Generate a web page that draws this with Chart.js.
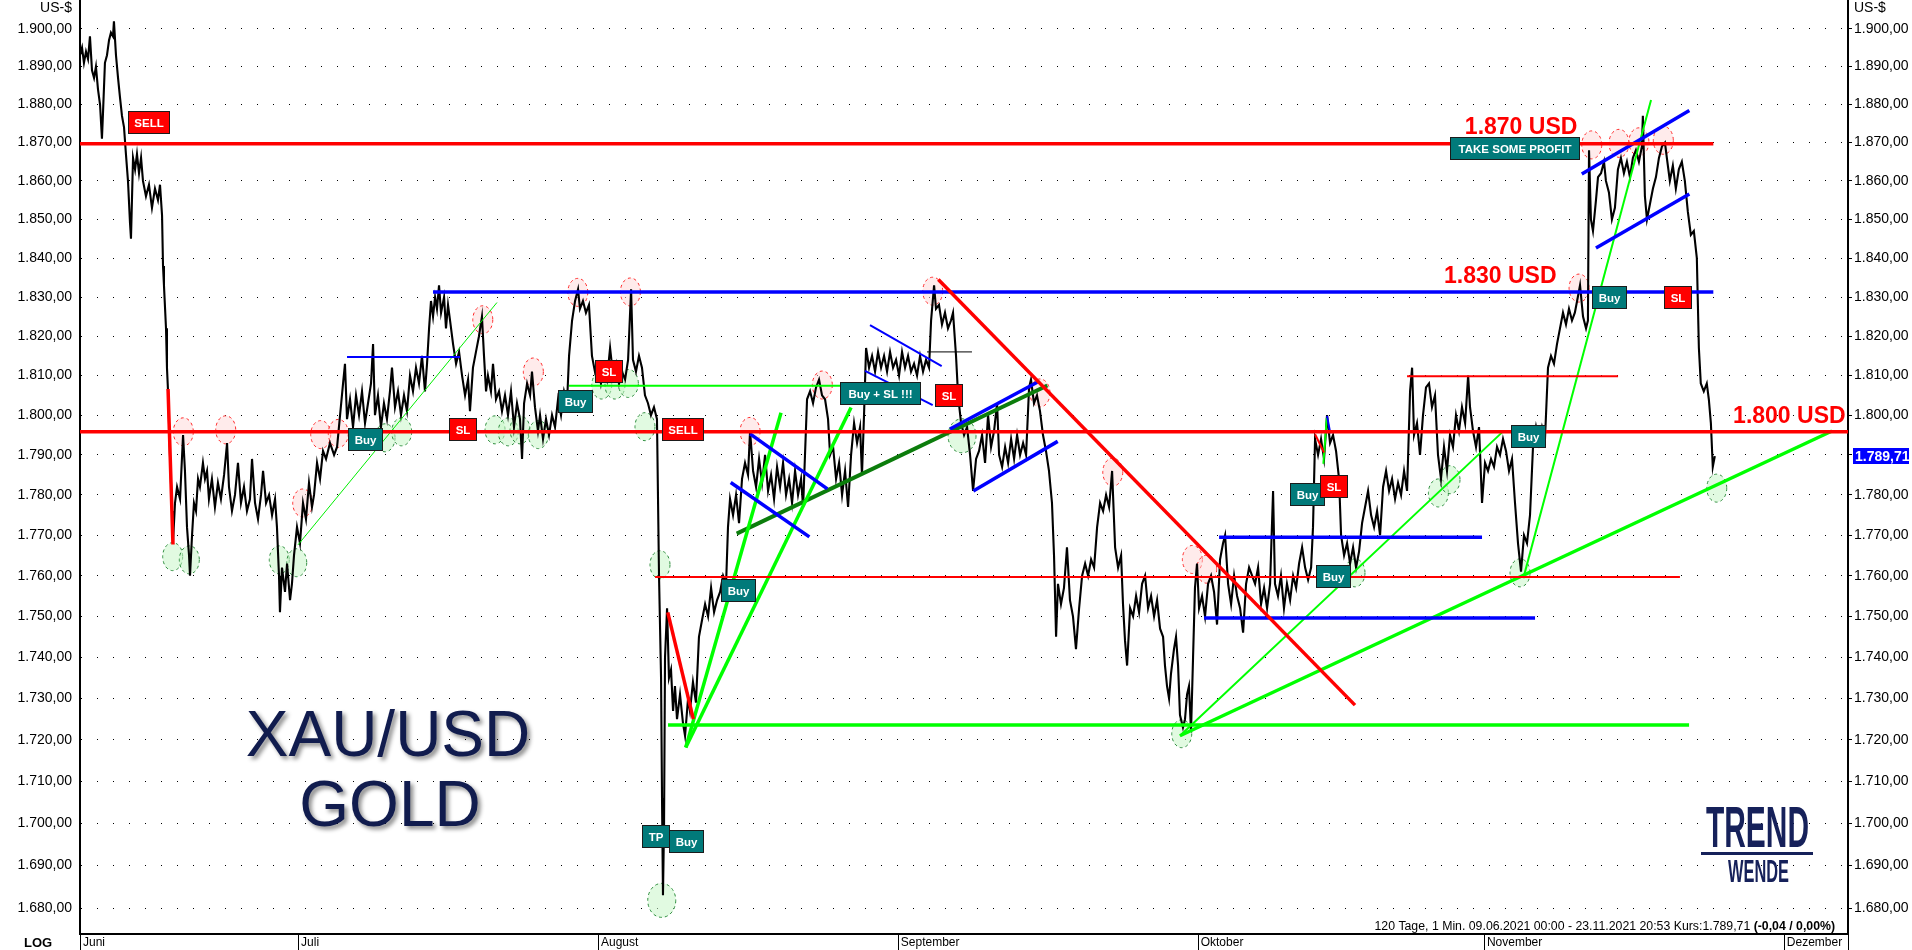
<!DOCTYPE html>
<html>
<head>
<meta charset="utf-8">
<title>XAU/USD Gold</title>
<script src="https://cdn.jsdelivr.net/npm/chart.js@4.4.1/dist/chart.umd.min.js"></script>
<style>
  html, body { margin: 0; padding: 0; background: #fff; }
  #wrap { width: 1912px; height: 950px; }
</style>
</head>
<body>
<div id="wrap"><canvas id="goldChart" width="1912" height="950"></canvas></div>
<script>
// Achsen: Handelstage seit 09.06.2021, Preis in US-$ (log)
const monthNames = ['Juni', 'Juli', 'August', 'September', 'Oktober', 'November', 'Dezember'];
const monthStarts = [0, 16, 38, 60, 82, 103, 125];
const priceTicks = [1680, 1690, 1700, 1710, 1720, 1730, 1740, 1750, 1760, 1770, 1780, 1790, 1800, 1810, 1820, 1830, 1840, 1850, 1860, 1870, 1880, 1890, 1900];
const yMin = 1673.9;
const yMax = 1907.7;
const xMax = 129.71;
const lastPrice = 1789.71;

// Kursverlauf [Handelstag, Kurs]
const gold = [
[0,1893],[0.15,1895],[0.29,1891],[0.44,1894],[0.59,1892],[0.73,1898],[0.88,1889],[1.03,1887],[1.17,1890],[1.32,1884],[1.47,1880],[1.61,1871],[1.69,1878],[1.83,1891],[1.98,1893],[2.13,1897],[2.27,1899],[2.42,1898],[2.49,1902],[2.64,1893],[2.79,1887],[2.93,1882],[3.08,1877],[3.23,1874],[3.37,1867],[3.52,1860],[3.67,1849],[3.74,1845],[3.89,1866],[4.04,1863],[4.18,1867],[4.33,1862],[4.48,1866],[4.62,1860],[4.84,1856],[5.06,1859],[5.28,1853],[5.50,1858],[5.72,1855],[5.87,1859],[6.02,1851],[6.09,1838],[6.16,1833],[6.31,1822],[6.38,1812],[6.46,1806],[6.60,1790],[6.75,1776],[6.82,1768],[6.97,1778],[7.12,1782],[7.34,1779],[7.56,1795],[7.70,1786],[7.85,1772],[8.00,1765],[8.07,1760],[8.22,1770],[8.36,1778],[8.51,1776],[8.66,1784],[8.80,1782],[9.02,1788],[9.17,1784],[9.32,1786],[9.46,1779],[9.68,1784],[9.90,1777],[10.12,1783],[10.34,1779],[10.57,1785],[10.79,1793],[10.93,1782],[11.15,1776],[11.37,1780],[11.59,1788],[11.81,1778],[12.03,1782],[12.25,1776],[12.47,1779],[12.62,1789],[12.84,1778],[13.06,1774],[13.28,1780],[13.43,1786],[13.65,1778],[13.87,1780],[14.09,1775],[14.31,1779],[14.45,1772],[14.60,1760],[14.67,1751],[14.82,1762],[15.04,1756],[15.19,1763],[15.41,1754],[15.55,1758],[15.70,1765],[15.92,1772],[16.14,1768],[16.36,1778],[16.58,1774],[16.80,1783],[17.02,1777],[17.17,1780],[17.39,1788],[17.61,1784],[17.83,1791],[18.05,1789],[18.34,1793],[18.64,1790],[18.86,1792],[19.08,1800],[19.30,1808],[19.44,1813],[19.59,1799],[19.81,1804],[20.03,1797],[20.25,1805],[20.47,1800],[20.69,1806],[20.91,1798],[21.13,1803],[21.35,1808],[21.50,1818],[21.64,1800],[21.86,1805],[22.08,1797],[22.30,1803],[22.52,1799],[22.74,1806],[22.89,1812],[23.11,1802],[23.33,1806],[23.55,1800],[23.77,1805],[23.99,1801],[24.21,1810],[24.43,1806],[24.65,1812],[24.87,1808],[25.09,1815],[25.31,1806],[25.46,1813],[25.61,1822],[25.75,1829],[25.90,1825],[26.05,1830],[26.19,1827],[26.34,1833],[26.49,1826],[26.71,1830],[26.85,1822],[27.00,1828],[27.15,1824],[27.37,1818],[27.59,1813],[27.81,1816],[28.03,1810],[28.25,1805],[28.47,1809],[28.61,1801],[28.83,1812],[29.05,1816],[29.27,1820],[29.49,1825],[29.64,1815],[29.79,1806],[29.93,1810],[30.15,1806],[30.30,1813],[30.52,1804],[30.74,1806],[30.96,1801],[31.18,1805],[31.40,1800],[31.62,1806],[31.84,1797],[32.06,1803],[32.28,1799],[32.43,1789],[32.58,1803],[32.80,1808],[33.02,1805],[33.16,1811],[33.38,1802],[33.60,1796],[33.75,1800],
[33.97,1794],[34.19,1799],[34.41,1795],[34.63,1800],[34.85,1797],[35.07,1804],[35.29,1800],[35.51,1806],[35.73,1803],[35.88,1815],[36.10,1824],[36.32,1829],[36.54,1832],[36.68,1827],[36.90,1829],[37.12,1826],[37.34,1828],[37.56,1815],[37.78,1811],[38.00,1813],[38.22,1808],[38.44,1812],[38.66,1809],[38.89,1817],[39.11,1810],[39.33,1813],[39.55,1808],[39.77,1811],[39.99,1809],[40.21,1814],[40.43,1832],[40.57,1814],[40.79,1811],[41.01,1815],[41.23,1812],[41.45,1805],[41.67,1803],[41.89,1800],[42.11,1802],[42.33,1799],[42.48,1760],[42.63,1735],[42.70,1706],[42.77,1683],[42.85,1700],[42.92,1740],[43.07,1752],[43.21,1735],[43.36,1737],[43.51,1727],[43.65,1733],[43.80,1725],[44.02,1731],[44.24,1724],[44.39,1721],[44.61,1730],[44.75,1727],[44.97,1734],[45.19,1729],[45.41,1745],[45.63,1749],[45.86,1753],[46.08,1750],[46.30,1757],[46.52,1751],[46.74,1754],[46.96,1756],[47.18,1760],[47.40,1758],[47.54,1772],[47.69,1779],[47.91,1775],[48.13,1780],[48.35,1773],[48.57,1784],[48.79,1788],[49.01,1785],[49.16,1796],[49.38,1786],[49.60,1782],[49.82,1789],[50.04,1783],[50.26,1790],[50.48,1781],[50.70,1785],[50.92,1779],[51.14,1787],[51.36,1782],[51.58,1788],[51.80,1780],[52.02,1784],[52.24,1778],[52.46,1786],[52.68,1780],[52.90,1784],[53.05,1777],[53.19,1790],[53.34,1804],[53.56,1806],[53.78,1803],[54.00,1807],[54.22,1809],[54.44,1805],[54.66,1804],[54.88,1799],[55.03,1790],[55.25,1792],[55.47,1784],[55.69,1788],[55.91,1780],[56.13,1786],[56.35,1777],[56.57,1790],[56.79,1798],[57.01,1793],[57.23,1797],[57.37,1785],[57.52,1800],[57.67,1817],[57.89,1812],[58.11,1815],[58.33,1811],[58.55,1816],[58.77,1812],[58.99,1815],[59.21,1811],[59.43,1816],[59.65,1812],[59.87,1814],[60.09,1810],[60.31,1816],[60.53,1812],[60.75,1815],[60.97,1811],[61.19,1813],[61.41,1810],[61.63,1815],[61.85,1811],[62.07,1814],[62.29,1812],[62.44,1824],[62.66,1833],[62.80,1827],[63.02,1828],[63.24,1823],[63.46,1826],[63.68,1822],[63.90,1824],[64.05,1826],[64.27,1815],[64.42,1805],[64.64,1798],[64.86,1795],[65.08,1797],[65.30,1790],[65.52,1781],[65.74,1789],[65.96,1791],[66.18,1795],[66.40,1788],[66.62,1800],[66.84,1792],[67.06,1796],[67.28,1803],[67.43,1790],[67.65,1787],[67.87,1792],[68.09,1788],[68.31,1794],[68.53,1789],[68.75,1795],[68.97,1790],[69.19,1793],[69.41,1790],[69.63,1807],[69.77,1809],[69.99,1803],[70.21,1805],[70.43,1801],[70.65,1795],[70.87,1791],[71.09,1786],[71.31,1778],[71.46,1765],[71.61,1745],[71.75,1758],[71.97,1753],[72.19,1757],[72.41,1767],[72.63,1754],[72.85,1750],[73.07,1742],[73.30,1752],[73.52,1760],[73.74,1763],[73.96,1760],[74.18,1764],[74.40,1762],[74.62,1772],[74.84,1778],[75.06,1776],[75.28,1780],[75.50,1777],[75.72,1786],[75.94,1767],[76.16,1762],[76.38,1765],[76.52,1753],[76.67,1744],[76.82,1738],[77.04,1752],[77.26,1750],[77.48,1755],[77.70,1751],[77.92,1758],[78.14,1760],[78.36,1752],[78.58,1755],[78.80,1750],[79.02,1754],[79.24,1747],[79.46,1745],[79.60,1738],[79.75,1733],[79.90,1730],[80.04,1736],[80.26,1742],[80.41,1745],[80.56,1738],[80.70,1726],[80.92,1723],[81.07,1725],[81.22,1731],[81.36,1733],[81.51,1722],[81.66,1740],[81.80,1757],[81.95,1763],[82.10,1752],[82.32,1755],[82.54,1750],[82.76,1758],[82.98,1760],[83.20,1756],[83.42,1748],[83.64,1764],[83.86,1768],[84.01,1770],[84.23,1758],[84.45,1753],[84.67,1760],[84.89,1755],[85.11,1752],[85.33,1746],[85.55,1758],[85.77,1762],[85.99,1760],[86.21,1758],[86.43,1762],[86.65,1753],[86.87,1757],[87.09,1752],[87.31,1758],[87.53,1781],[87.67,1758],[87.89,1755],[88.11,1760],[88.33,1752],[88.55,1758],[88.78,1754],[89.00,1760],[89.22,1757],[89.44,1763],[89.66,1767],[89.88,1762],[90.10,1759],[90.32,1762],[90.46,1772],[90.61,1794],[90.83,1790],[91.05,1794],[91.27,1789],[91.49,1800],[91.71,1793],[91.93,1795],[92.15,1791],[92.37,1784],[92.52,1770],[92.74,1765],[92.96,1768],[93.18,1763],[93.40,1767],[93.62,1762],[93.84,1766],[94.06,1773],[94.28,1777],[94.50,1781],[94.72,1775],[94.94,1772],[95.16,1776],[95.38,1770],[95.60,1782],[95.82,1786],[96.04,1781],[96.26,1784],[96.48,1779],[96.70,1783],
[96.92,1780],[97.14,1786],[97.36,1781],[97.58,1806],[97.73,1812],[97.87,1795],[98.09,1798],[98.31,1790],[98.53,1800],[98.75,1807],[98.97,1808],[99.19,1802],[99.41,1805],[99.63,1790],[99.85,1784],[100.07,1792],[100.29,1786],[100.51,1795],[100.73,1792],[100.95,1800],[101.17,1796],[101.39,1802],[101.62,1798],[101.84,1810],[101.98,1802],[102.20,1796],[102.42,1792],[102.64,1797],[102.86,1778],[103.08,1788],[103.30,1786],[103.52,1789],[103.74,1787],[103.96,1792],[104.18,1790],[104.40,1794],[104.62,1791],[104.84,1786],[105.06,1789],[105.28,1778],[105.50,1768],[105.72,1761],[105.94,1770],[106.16,1768],[106.38,1775],[106.60,1792],[106.82,1797],[107.04,1793],[107.26,1797],[107.48,1794],[107.70,1812],[107.92,1815],[108.14,1813],[108.36,1818],[108.58,1822],[108.80,1826],[109.02,1823],[109.24,1827],[109.46,1824],[109.67,1826],[109.89,1830],[110.05,1833],[110.27,1825],[110.49,1822],[110.63,1824],[110.71,1868],[110.85,1850],[111.00,1847],[111.22,1855],[111.37,1861],[111.59,1862],[111.81,1865],[111.95,1860],[112.17,1857],[112.39,1850],[112.61,1853],[112.83,1863],[113.05,1866],[113.27,1862],[113.49,1865],[113.71,1861],[113.93,1866],[114.15,1868],[114.37,1865],[114.59,1869],[114.66,1877],[114.81,1856],[114.96,1850],[115.18,1854],[115.40,1858],[115.62,1861],[115.84,1866],[116.06,1869],[116.28,1870],[116.42,1866],[116.64,1860],[116.86,1864],[117.08,1858],[117.30,1863],[117.52,1865],[117.74,1860],[117.96,1852],[118.18,1846],[118.40,1847],[118.62,1840],[118.77,1817],[118.91,1808],[119.13,1806],[119.35,1808],[119.50,1804],[119.65,1798],[119.79,1787],[119.94,1789.71]
];

// Zeichenlinien, je Strecke [[Tag, Kurs], [Tag, Kurs]]
const redThick = [
  [[0, 1869.7], [119.83, 1869.7]],
  [[0, 1795.8], [129.71, 1795.8]],
  [[6.46, 1806.6], [6.82, 1767.7]],
  [[43.12, 1751], [45.0, 1725]],
  [[62.97, 1834.5], [93.54, 1728.4]]
];
const redThin = [
  [[97.36, 1809.8], [112.84, 1809.8]],
  [[42.19, 1759.7], [117.38, 1759.7]],
  [[90.61, 1795.2], [91.27, 1790.6]]
];
const blueThick = [
  [[25.90, 1831.3], [119.83, 1831.3]],
  [[83.57, 1769.5], [102.86, 1769.5]],
  [[82.47, 1749.6], [106.75, 1749.6]],
  [[49.16, 1795.3], [54.83, 1781.5]],
  [[47.74, 1783.1], [53.51, 1769.6]],
  [[63.83, 1796.5], [70.23, 1808.3]],
  [[65.54, 1781.0], [71.73, 1793.4]],
  [[110.18, 1861.8], [118.07, 1878.4]],
  [[111.22, 1842.6], [118.07, 1856.6]]
];
const blueThin = [
  [[19.59, 1814.7], [27.88, 1814.7]],
  [[57.96, 1822.8], [63.22, 1812.4]],
  [[57.59, 1811.2], [62.56, 1802.5]],
  [[91.49, 1799.8], [91.73, 1795.4]]
];
const greenThick = [
  [[43.14, 1723.6], [118.05, 1723.6]],
  [[44.44, 1718.2], [51.43, 1800.6]],
  [[44.44, 1718.2], [56.57, 1801.9]],
  [[80.70, 1721.0], [128.54, 1796.0]]
];
const greenThin = [
  [[35.88, 1807.4], [55.98, 1807.4]],
  [[57.45, 1803.1], [61.56, 1803.1]],
  [[80.70, 1721.0], [104.31, 1795.6]],
  [[105.89, 1759.4], [115.26, 1881.2]],
  [[91.22, 1787.8], [91.47, 1799.3]]
];
const greenHair = [
  [[15.99, 1767.6], [30.59, 1828.6]]
];
const darkGreen = [
  [[48.18, 1770.4], [70.97, 1807.5]]
];
const blackThin = [
  [[62.14, 1816], [65.44, 1816]]
];

// Markierungen [Tag, Kurs]
const topMarks = [
  [7.58, 1795.8], [10.69, 1796.3], [17.66, 1795.1], [18.95, 1795.4], [16.34, 1778.0], [29.55, 1824.2],
  [33.26, 1810.9], [36.52, 1831.2], [40.38, 1831.3], [49.16, 1795.9], [54.46, 1807.6], [62.56, 1831.5],
  [70.43, 1805.6], [75.77, 1785.7], [81.61, 1764.0], [82.66, 1761.6], [109.98, 1832.3], [110.91, 1869.4],
  [112.91, 1869.8], [114.37, 1870.2], [116.16, 1870.6]
];
const bottomMarks = [
  [6.80, 1764.7], [8.02, 1763.9], [14.62, 1763.9], [15.90, 1763.2], [22.38, 1794.3], [23.60, 1795.8],
  [30.45, 1796.3], [31.42, 1795.8], [32.28, 1796.3], [33.63, 1795.1], [38.28, 1807.6], [39.25, 1807.6],
  [40.23, 1808.0], [41.45, 1797.1], [42.55, 1762.7], [93.54, 1760.7], [99.66, 1780.5], [100.51, 1783.8],
  [120.08, 1781.7], [80.83, 1721.5], [105.65, 1760.7]
];
const bigBottomMarks = [
  [42.68, 1681.8], [64.71, 1794.8]
];

// Signale [Tag, Kurs, Text]
const buySignals = [
  [20.91, 1794.0, 'Buy'], [36.32, 1803.6, 'Buy'], [48.28, 1756.5, 'Buy'], [42.21, 1697.1, 'TP'],
  [44.45, 1695.8, 'Buy'], [58.69, 1805.5, 'Buy + SL !!!'], [90.0, 1780.2, 'Buy'], [91.9, 1760.0, 'Buy'],
  [106.22, 1794.7, 'Buy'], [105.24, 1868.6, 'TAKE SOME PROFIT'], [112.17, 1830.0, 'Buy']
];
const sellSignals = [
  [4.99, 1875.4, 'SELL'], [28.06, 1796.5, 'SL'], [38.79, 1811.1, 'SL'], [44.17, 1796.4, 'SELL'],
  [63.71, 1805.1, 'SL'], [91.98, 1782.3, 'SL'], [117.17, 1829.9, 'SL']
];

// Kursmarken [Tag, Kurs, Text]
const levelNotes = [
  [101.6, 1873.9, '1.870 USD'],
  [100.07, 1835.2, '1.830 USD'],
  [121.28, 1799.6, '1.800 USD']
];

const infoText = '120 Tage, 1 Min. 09.06.2021 00:00 - 23.11.2021 20:53 Kurs:1.789,71 ';
const infoChange = '(-0,04 / 0,00%)';

// Stile
const lineStyles = {
  redThick: { color: '#ff0000', width: 3.5 },
  redThin: { color: '#ff0000', width: 2 },
  blueThick: { color: '#0000ff', width: 3.5 },
  blueThin: { color: '#0000ff', width: 2 },
  greenThick: { color: '#00ff00', width: 3.5 },
  greenThin: { color: '#00ff00', width: 2 },
  greenHair: { color: '#00ee00', width: 1 },
  darkGreen: { color: '#0c7d0c', width: 4 },
  blackThin: { color: '#000000', width: 1 }
};
const lineGroups = { redThick, redThin, blueThick, blueThin, greenThick, greenThin, greenHair, darkGreen, blackThin };

const axisFont = '"Liberation Sans Narrow", "Arial Narrow", "Liberation Sans", Arial, sans-serif';

function formatPrice(v) {
  const parts = v.toFixed(2).split('.');
  const intPart = parts[0].replace(/\B(?=(\d{3})+(?!\d))/g, '.');
  return intPart + ',' + parts[1];
}

const datasets = [];
Object.keys(lineGroups).forEach(name => {
  const style = lineStyles[name];
  lineGroups[name].forEach(seg => {
    datasets.push({
      data: seg.map(p => ({ x: p[0], y: p[1] })),
      borderColor: style.color,
      borderWidth: style.width,
      borderCapStyle: 'butt',
      pointRadius: 0,
      order: 1
    });
  });
});
datasets.push({
  data: gold.map(p => ({ x: p[0], y: p[1] })),
  borderColor: '#000000',
  borderWidth: 2.1,
  pointRadius: 0,
  tension: 0,
  order: 10
});

// Hilfsfunktionen zum Zeichnen
function drawTag(ctx, x, y, text, fill) {
  ctx.font = 'bold 11.5px "Liberation Sans", Arial, sans-serif';
  const pad = text.length > 10 ? 8 : 6;
  const w = Math.round(ctx.measureText(text).width + pad * 2);
  const h = 22;
  const left = Math.round(x - w / 2) + 0.5;
  const top = Math.round(y - h / 2) + 0.5;
  ctx.fillStyle = fill;
  ctx.fillRect(left, top, w, h);
  ctx.strokeStyle = '#1b1b1b';
  ctx.lineWidth = 1;
  ctx.strokeRect(left, top, w, h);
  ctx.fillStyle = '#ffffff';
  ctx.textAlign = 'center';
  ctx.textBaseline = 'middle';
  ctx.fillText(text, left + w / 2, top + h / 2 + 1);
}

function drawMark(ctx, x, y, rx, ry, fill, stroke) {
  ctx.save();
  ctx.beginPath();
  ctx.ellipse(x, y, rx, ry, 0, 0, Math.PI * 2);
  ctx.fillStyle = fill;
  ctx.fill();
  ctx.setLineDash([3, 3]);
  ctx.strokeStyle = stroke;
  ctx.lineWidth = 1;
  ctx.stroke();
  ctx.restore();
}

function fitText(ctx, text, x, baseline, width, font, color) {
  ctx.save();
  ctx.font = font;
  const w = ctx.measureText(text).width;
  ctx.translate(x, baseline);
  ctx.scale(width / w, 1);
  ctx.fillStyle = color;
  ctx.textAlign = 'left';
  ctx.textBaseline = 'alphabetic';
  ctx.fillText(text, 0, 0);
  ctx.restore();
}

const overlayPlugin = {
  id: 'overlay',
  beforeDatasetsDraw(chart) {
    const { ctx, chartArea, scales } = chart;
    const xs = scales.x, ys = scales.y;
    ctx.save();
    ctx.beginPath();
    ctx.rect(chartArea.left, chartArea.top, chartArea.width, chartArea.height);
    ctx.clip();
    topMarks.forEach(m => drawMark(ctx, xs.getPixelForValue(m[0]), ys.getPixelForValue(m[1]), 10, 14, 'rgba(255,215,215,0.5)', '#ff2828'));
    bottomMarks.forEach(m => drawMark(ctx, xs.getPixelForValue(m[0]), ys.getPixelForValue(m[1]), 10, 14, 'rgba(200,245,200,0.55)', '#2c8c3c'));
    bigBottomMarks.forEach(m => drawMark(ctx, xs.getPixelForValue(m[0]), ys.getPixelForValue(m[1]), 14, 17, 'rgba(200,245,200,0.55)', '#2c8c3c'));

    // Titel
    ctx.font = '64px "Liberation Sans", Arial, sans-serif';
    ctx.textAlign = 'center';
    ctx.textBaseline = 'alphabetic';
    ctx.shadowColor = 'rgba(0,0,0,0.45)';
    ctx.shadowBlur = 4;
    ctx.shadowOffsetX = 3;
    ctx.shadowOffsetY = 3;
    ctx.fillStyle = '#111c4e';
    ctx.fillText('XAU/USD', chartArea.left + 308, chartArea.top + 756);
    ctx.fillText('GOLD', chartArea.left + 310, chartArea.top + 826);
    ctx.shadowColor = 'transparent';

    // Logo
    const lx = chartArea.right - 142;
    const ly = chartArea.top + 847;
    fitText(ctx, 'TREND', lx, ly, 103, 'bold 58px "Liberation Sans Narrow", "Liberation Sans", Arial, sans-serif', '#16215a');
    ctx.fillStyle = '#16215a';
    ctx.fillRect(lx - 5, ly + 5, 112, 3);
    fitText(ctx, 'WENDE', lx + 22, ly + 35, 61, 'bold 32px "Liberation Sans Narrow", "Liberation Sans", Arial, sans-serif', '#16215a');
    ctx.restore();
  },
  afterDatasetsDraw(chart) {
    const { ctx, scales } = chart;
    const xs = scales.x, ys = scales.y;
    ctx.save();
    ctx.font = 'bold 23px "Liberation Sans", Arial, sans-serif';
    ctx.fillStyle = '#ff0000';
    ctx.textAlign = 'left';
    ctx.textBaseline = 'middle';
    levelNotes.forEach(n => ctx.fillText(n[2], xs.getPixelForValue(n[0]), ys.getPixelForValue(n[1])));
    buySignals.forEach(s => drawTag(ctx, xs.getPixelForValue(s[0]), ys.getPixelForValue(s[1]), s[2], '#017a7a'));
    sellSignals.forEach(s => drawTag(ctx, xs.getPixelForValue(s[0]), ys.getPixelForValue(s[1]), s[2], '#ff0000'));
    ctx.restore();
  },
  afterDraw(chart) {
    const { ctx, chartArea, scales } = chart;
    const xs = scales.x, ys = scales.y;
    ctx.save();
    // Monatstrenner
    ctx.strokeStyle = '#000';
    ctx.lineWidth = 1;
    monthStarts.forEach(m => {
      const x = Math.round(xs.getPixelForValue(m)) + 0.5;
      ctx.beginPath();
      ctx.moveTo(x, chartArea.bottom);
      ctx.lineTo(x, chart.height);
      ctx.stroke();
    });
    ctx.beginPath();
    ctx.moveTo(chartArea.right + 0.5, chartArea.bottom);
    ctx.lineTo(chartArea.right + 0.5, chart.height);
    ctx.stroke();

    ctx.font = '14px ' + axisFont;
    ctx.fillStyle = '#000';
    ctx.textBaseline = 'middle';
    ctx.textAlign = 'right';
    ctx.fillText('US-$', chartArea.left - 8, 8);
    ctx.textAlign = 'left';
    ctx.fillText('US-$', chartArea.right + 6, 8);
    ctx.font = 'bold 13px ' + axisFont;
    ctx.fillText('LOG', 24, chartArea.bottom + 9);

    // Info unten rechts
    const infoSize = '12.3px ';
    ctx.font = infoSize + axisFont;
    const w1 = ctx.measureText(infoText).width;
    ctx.font = 'bold ' + infoSize + axisFont;
    const w2 = ctx.measureText(infoChange).width;
    const right = chartArea.right - 13;
    ctx.textBaseline = 'alphabetic';
    ctx.textAlign = 'left';
    ctx.font = infoSize + axisFont;
    ctx.fillText(infoText, right - w1 - w2, chartArea.bottom - 4);
    ctx.font = 'bold ' + infoSize + axisFont;
    ctx.fillText(infoChange, right - w2, chartArea.bottom - 4);

    // Letzter Kurs
    const py = ys.getPixelForValue(lastPrice);
    ctx.fillStyle = '#0000ff';
    ctx.fillRect(chartArea.right + 5, Math.round(py) - 8, 56, 16);
    ctx.fillStyle = '#ffffff';
    ctx.font = 'bold 14px ' + axisFont;
    ctx.textBaseline = 'middle';
    ctx.textAlign = 'left';
    ctx.fillText(formatPrice(lastPrice), chartArea.right + 7, Math.round(py) + 1);
    ctx.restore();
  }
};

const yTickConfig = {
  autoSkip: false,
  color: '#000',
  font: { family: axisFont, size: 14 },
  callback: v => formatPrice(v)
};

new Chart(document.getElementById('goldChart'), {
  type: 'line',
  data: { datasets: datasets },
  options: {
    responsive: false,
    animation: false,
    devicePixelRatio: 1,
    layout: { padding: 0 },
    plugins: { legend: { display: false }, tooltip: { enabled: false } },
    scales: {
      x: {
        type: 'linear',
        min: 0,
        max: xMax,
        afterBuildTicks: s => { s.ticks = monthStarts.map(v => ({ value: v })); },
        afterFit: s => { s.height = 16; s.paddingLeft = 0; s.paddingRight = 0; },
        ticks: {
          autoSkip: false,
          maxRotation: 0,
          align: 'start',
          labelOffset: 3,
          padding: 1,
          color: '#000',
          font: { family: axisFont, size: 12 },
          callback: v => monthNames[monthStarts.indexOf(v)]
        },
        grid: { drawOnChartArea: false, drawTicks: false },
        border: { display: true, color: '#000', width: 2 }
      },
      y: {
        type: 'logarithmic',
        position: 'left',
        min: yMin,
        max: yMax,
        afterBuildTicks: s => { s.ticks = priceTicks.map(v => ({ value: v })); },
        afterFit: s => { s.width = 80; s.paddingTop = 0; s.paddingBottom = 0; },
        ticks: Object.assign({ padding: 8 }, yTickConfig),
        grid: { color: '#000', lineWidth: 1, drawTicks: false },
        border: { display: true, color: '#000', width: 2, dash: [1, 15] }
      },
      y2: {
        type: 'logarithmic',
        position: 'right',
        min: yMin,
        max: yMax,
        afterBuildTicks: s => { s.ticks = priceTicks.map(v => ({ value: v })); },
        afterFit: s => { s.width = 64; s.paddingTop = 0; s.paddingBottom = 0; },
        ticks: Object.assign({ padding: 2 }, yTickConfig),
        grid: { drawOnChartArea: false, drawTicks: true, tickLength: 4, color: '#000' },
        border: { display: true, color: '#000', width: 2 }
      }
    }
  },
  plugins: [overlayPlugin]
});
</script>
</body>
</html>
